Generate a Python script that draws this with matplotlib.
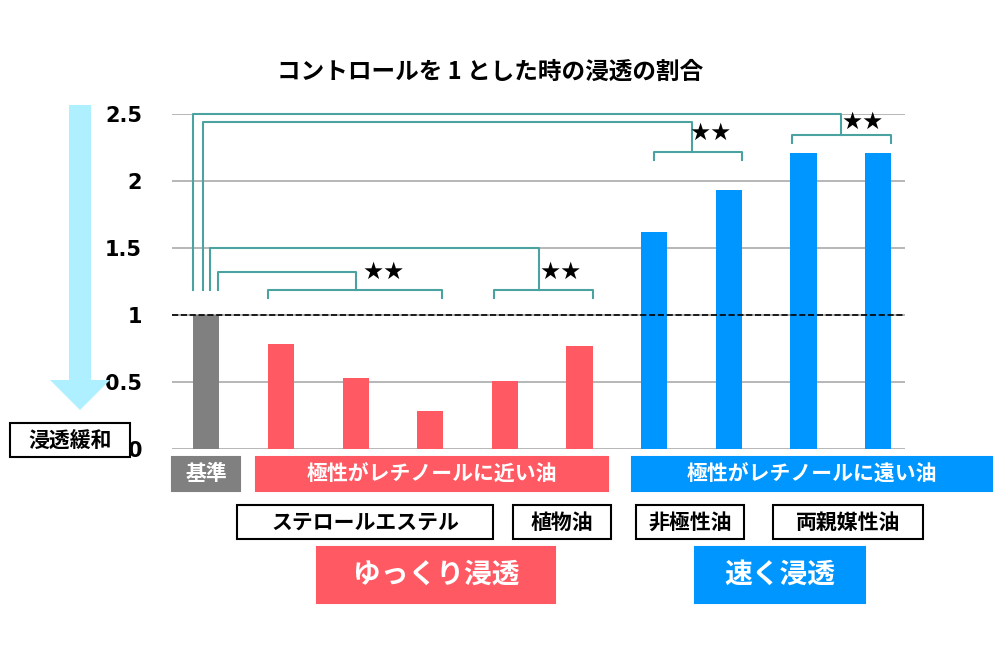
import matplotlib
matplotlib.use("Agg")
import matplotlib.pyplot as plt
from matplotlib.patches import FancyArrow

plt.rcParams["font.family"] = "Noto Sans CJK JP"

values = [1.0, 0.78, 0.53, 0.28, 0.51, 0.77, 1.62, 1.93, 2.21, 2.21]
colors = ["#808080"] + ["#ff5a64"] * 5 + ["#0096ff"] * 4
yticks = [0, 0.5, 1, 1.5, 2, 2.5]
yticklabels = ["0", "0.5", "1", "1.5", "2", "2.5"]
title = "コントロールを 1 とした時の浸透の割合"

W, H = 1000, 667
fig = plt.figure(figsize=(10, 6.67), dpi=100)
ax = fig.add_axes([172 / W, 1 - 449 / H, (905 - 172) / W, (449 - 114) / H])
x = list(range(len(values)))
ax.bar(x, values, width=0.35, color=colors, zorder=3)
ax.set_xlim(-0.46, 9.36)
ax.set_ylim(0, 2.5)
ax.set_yticks(yticks)
ax.set_yticklabels(yticklabels, fontsize=15, fontweight="bold", family="DejaVu Sans")
ax.tick_params(left=False, bottom=False, labelbottom=False, pad=18)
ax.grid(axis="y", color="#aaaaaa", lw=1.2, zorder=0)
for s in ax.spines.values():
    s.set_visible(False)
ax.axhline(1, color="black", ls="--", lw=1.2, zorder=4)

tc = "#4aa3a0"
def L(xs, ys):
    ax.plot(xs, ys, color=tc, lw=1.5, clip_on=False, zorder=2)

def bracket(a, b, y, d=0.06):
    L([a, a, b, b], [y - d, y, y, y - d])

bracket(0.83, 3.16, 1.19)
bracket(3.85, 5.18, 1.19)
bracket(6.0, 7.17, 2.22)
bracket(7.85, 9.17, 2.34)
L([0.16, 0.16, 2, 2], [1.19, 1.32, 1.32, 1.19])
L([0.05, 0.05, 4.45, 4.45], [1.19, 1.5, 1.5, 1.19])
L([-0.05, -0.05, 6.5, 6.5], [1.19, 2.44, 2.44, 2.22])
L([-0.18, -0.18, 8.5, 8.5], [1.19, 2.5, 2.5, 2.34])
for sx, sy in [(2.38, 1.32), (4.75, 1.32), (6.75, 2.36), (8.79, 2.44)]:
    ax.text(sx, sy, "★★", fontsize=17, ha="center", va="center", family="DejaVu Sans")

fig.text(490 / W, 1 - 72 / H, title, fontsize=17, fontweight="bold", ha="center", va="center")

def box(cx, cy, w, h, txt, fc, tcol, fs=15, ec=None):
    fig.patches.append(plt.Rectangle(((cx - w / 2) / W, 1 - (cy + h / 2) / H), w / W, h / H,
                                     transform=fig.transFigure, fc=fc, ec=ec or fc, lw=1.5))
    fig.text(cx / W, 1 - cy / H, txt, fontsize=fs, fontweight="bold", color=tcol, ha="center", va="center")

box(206, 474, 68, 34, "基準", "#808080", "white")
box(432, 474, 352, 34, "極性がレチノールに近い油", "#ff5a64", "white")
box(812, 474, 360, 34, "極性がレチノールに遠い油", "#0096ff", "white")
box(365, 522, 256, 34, "ステロールエステル", "white", "black", ec="black")
box(562, 522, 98, 34, "植物油", "white", "black", ec="black")
box(690, 522, 108, 34, "非極性油", "white", "black", ec="black")
box(848, 522, 150, 34, "両親媒性油", "white", "black", ec="black")
box(436, 575, 238, 56, "ゆっくり浸透", "#ff5a64", "white", fs=20)
box(780, 575, 170, 56, "速く浸透", "#0096ff", "white", fs=20)
box(70, 440, 120, 34, "浸透緩和", "white", "black", ec="black")

fig.patches.append(FancyArrow(80 / W, 1 - 105 / H, 0, -(305) / H, width=22 / W,
                              head_width=60 / W, head_length=30 / H,
                              length_includes_head=True, transform=fig.transFigure,
                              fc="#aef0ff", ec="none"))

fig.savefig("out.png", dpi=100)
